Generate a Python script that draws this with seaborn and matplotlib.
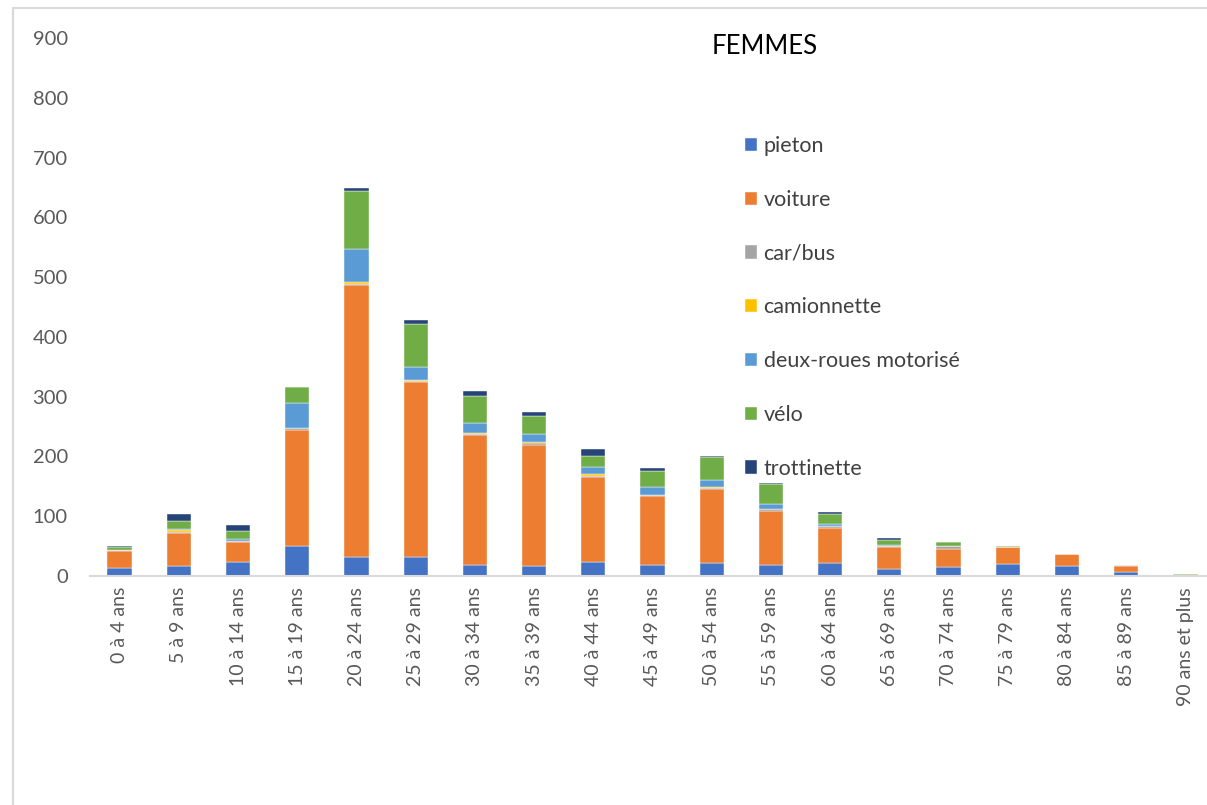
import matplotlib
matplotlib.use("Agg")
import matplotlib.pyplot as plt
from matplotlib.patches import Rectangle
import numpy as np
import pandas as pd
import seaborn as sns

# Age groups
categories = ["0 à 4 ans", "5 à 9 ans", "10 à 14 ans", "15 à 19 ans", "20 à 24 ans",
              "25 à 29 ans", "30 à 34 ans", "35 à 39 ans", "40 à 44 ans", "45 à 49 ans",
              "50 à 54 ans", "55 à 59 ans", "60 à 64 ans", "65 à 69 ans", "70 à 74 ans",
              "75 à 79 ans", "80 à 84 ans", "85 à 89 ans", "90 ans et plus"]

# Counts per mode of transport
pieton      = [14, 17, 23, 51, 31, 31, 19, 16, 23, 18, 22, 19, 21, 11, 15, 20, 17, 7, 2]
voiture     = [28, 55, 34, 193, 456, 293, 217, 203, 142, 115, 123, 89, 60, 38, 31, 28, 19, 10, 0.5]
car_bus     = [1, 1, 1, 4, 2, 2, 1, 3, 3, 2, 3, 4.5, 2, 2, 4.5, 0, 1, 1, 0]
camionnette = [0, 4.5, 0, 0, 3, 2, 1.5, 3, 3, 0.5, 0.5, 0, 0, 0, 0, 0, 0, 0, 0]
deux_roues  = [0, 1, 4, 42, 55, 22, 18, 12, 11, 13, 12, 8, 4.5, 0.5, 0, 0, 0, 0, 0]
velo        = [5, 13, 14, 26, 97, 71, 45, 30, 18, 27, 38, 34, 16, 9.5, 7, 3, 0, 0, 1]
trottinette = [2, 13, 9, 1, 5.5, 7, 8, 8, 12, 5, 3, 1, 3, 2, 0, 0, 0, 0, 0]

series_names = ["pieton", "voiture", "car/bus", "camionnette",
                "deux-roues motorisé", "vélo", "trottinette"]
series_values = [pieton, voiture, car_bus, camionnette, deux_roues, velo, trottinette]
colors = ["#4472C4", "#ED7D31", "#A5A5A5", "#FFC000", "#5B9BD5", "#70AD47", "#264478"]

sns.set_style("white")
plt.rcParams["font.family"] = ["Lato", "DejaVu Sans"]

fig = plt.figure(figsize=(12.07, 8.05), dpi=100)
ax = fig.add_axes([90 / 1207, 1 - 576 / 805, 1125 / 1207, (576 - 38) / 805])

bottom = np.zeros(len(categories))
for name, vals, col in zip(series_names, series_values, colors):
    df = pd.DataFrame({"age": categories, "n": vals})
    sns.barplot(data=df, x="age", y="n", order=categories, bottom=bottom,
                color=col, width=0.41, ax=ax, label=name,
                edgecolor="white", linewidth=0.3, saturation=1, errorbar=None)
    bottom = bottom + np.array(vals, dtype=float)

ax.set_ylim(0, 900)
ax.set_xlim(-0.5, len(categories) - 0.5)
ax.set_yticks(range(0, 901, 100))
ax.set_xlabel("")
ax.set_ylabel("")
for s in ["left", "top", "right"]:
    ax.spines[s].set_visible(False)
ax.spines["bottom"].set_color("#d9d9d9")
ax.spines["bottom"].set_linewidth(1.5)
ax.tick_params(axis="y", length=0, pad=16, labelsize=14.5, labelcolor="#595959")
ax.tick_params(axis="x", length=0, pad=8, labelsize=14, labelcolor="#595959",
               labelrotation=90)

leg = ax.legend(loc="upper left", bbox_to_anchor=(745 / 1207, 1 - 136 / 805),
                bbox_transform=fig.transFigure, frameon=False, fontsize=15.5,
                handlelength=0.58, handleheight=0.58, handletextpad=0.28,
                labelspacing=1.57, borderpad=0, borderaxespad=0)
for t in leg.get_texts():
    t.set_color("#404040")

fig.text(765 / 1207, 1 - 47 / 805, "FEMMES", ha="center", va="center",
         fontsize=18.5, color="black")

# Outer chart frame
fig.patches.append(Rectangle((13 / 1207, -0.1), 1.2, 1 - 8 / 805 + 0.1,
                             transform=fig.transFigure, fill=False,
                             edgecolor="#d9d9d9", linewidth=1.5))

fig.savefig("out.png", dpi=100, facecolor="white")
